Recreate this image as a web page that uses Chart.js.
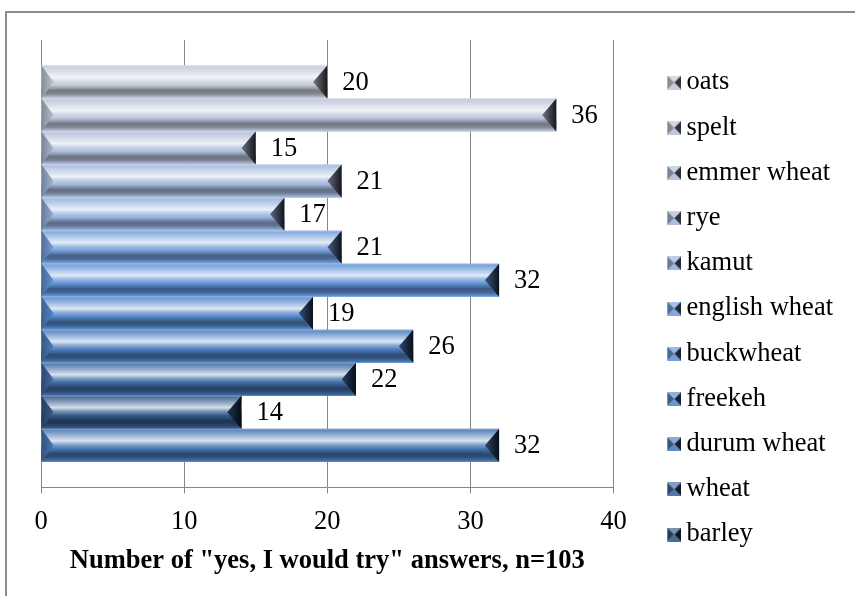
<!DOCTYPE html>
<html>
<head>
<meta charset="utf-8">
<script src="https://cdn.jsdelivr.net/npm/chart.js@4"></script>
<style>
  html, body { margin: 0; padding: 0; background: #fff; }
  #wrap { position: relative; width: 855px; height: 596px; overflow: hidden; }
  #frame { position: absolute; left: 5px; top: 11px; width: 900px; height: 700px;
           border-left: 2px solid #8c8c8c; border-top: 2px solid #8c8c8c; }
  canvas { position: absolute; left: 0; top: 0; }
</style>
</head>
<body>
<div id="wrap">
  <div id="frame"></div>
  <canvas id="chart" width="855" height="596"></canvas>
</div>
<script>
// top bar first; the last series has no name in the legend (it is cut off there)
const grains = ['oats', 'spelt', 'emmer wheat', 'rye', 'kamut', 'english wheat',
                'buckwheat', 'freekeh', 'durum wheat', 'wheat', 'barley', ''];
const answers = [20, 36, 15, 21, 17, 21, 32, 19, 26, 22, 14, 32];
const grainColors = ['#c2c9d6', '#bac4d8', '#b0bed9', '#a4b8db', '#95b0dd', '#759fdc',
                     '#6294d8', '#5488ca', '#4b7dbe', '#3f6aa4', '#34598a', '#4777b2'];
const xTicks = [0, 10, 20, 30, 40];
const axisTitle = 'Number of "yes, I would try" answers, n=103';

const serif = "'Liberation Serif', 'Times New Roman', serif";

function mix(hex, to, t) {
  const n = parseInt(hex.slice(1), 16);
  const r = n >> 16, g = (n >> 8) & 255, b = n & 255;
  const m = to === 'w' ? 255 : 0;
  return 'rgb(' + Math.round(r + (m - r) * t) + ',' + Math.round(g + (m - g) * t) + ',' + Math.round(b + (m - b) * t) + ')';
}

// little pyramid marker for the legend
function marker(c) {
  const cv = document.createElement('canvas');
  cv.width = 17; cv.height = 14;
  const k = cv.getContext('2d');
  const x0 = 3, x1 = 17, y0 = 0, y1 = 14, cx = 10, cy = 7;
  const tri = (pts, col) => {
    k.beginPath(); k.moveTo(pts[0], pts[1]); k.lineTo(pts[2], pts[3]); k.lineTo(pts[4], pts[5]);
    k.closePath(); k.fillStyle = col; k.fill();
  };
  tri([x0, y0, x1, y0, cx, cy], mix(c, 'w', 0.35));
  tri([x0, y1, x1, y1, cx, cy], mix(c, 'w', 0.1));
  tri([x0, y0, x0, y1, cx, cy], mix(c, 'k', 0.3));
  tri([x1, y0, x1, y1, cx, cy], mix(c, 'k', 0.75));
  return cv;
}

const bevelBars = {
  id: 'bevelBars',
  afterDatasetsDraw(chart) {
    const ctx = chart.ctx;
    ctx.save();
    chart.data.datasets.forEach((ds, i) => {
      const c = ds.backgroundColor;
      chart.getDatasetMeta(i).data.forEach(bar => {
        const {x, y, base, height} = bar.getProps(['x', 'y', 'base', 'height'], true);
        const left = Math.min(base, x), right = Math.max(base, x);
        const top = y - height / 2, bottom = y + height / 2;
        const b = Math.min(height * 0.43, (right - left) / 2);

        let g = ctx.createLinearGradient(0, top, 0, bottom);
        g.addColorStop(0, mix(c, 'w', 0.35));
        g.addColorStop(0.05, mix(c, 'w', 0.15));
        g.addColorStop(0.2, mix(c, 'w', 0.45));
        g.addColorStop(0.36, mix(c, 'w', 0.8));
        g.addColorStop(0.47, mix(c, 'w', 0.35));
        g.addColorStop(0.6, c);
        g.addColorStop(0.76, mix(c, 'k', 0.4));
        g.addColorStop(0.86, mix(c, 'k', 0.33));
        g.addColorStop(0.96, mix(c, 'k', 0.05));
        g.addColorStop(1, mix(c, 'w', 0.2));
        ctx.fillStyle = g;
        ctx.fillRect(left, top, right - left, height);

        // left face
        g = ctx.createLinearGradient(left, 0, left + b, 0);
        g.addColorStop(0, mix(c, 'k', 0.3));
        g.addColorStop(1, mix(c, 'w', 0.05));
        ctx.fillStyle = g;
        ctx.beginPath();
        ctx.moveTo(left, top); ctx.lineTo(left + b * 0.85, y); ctx.lineTo(left, bottom);
        ctx.closePath(); ctx.fill();

        // right face
        g = ctx.createLinearGradient(right - b, 0, right, 0);
        g.addColorStop(0, mix(c, 'k', 0.4));
        g.addColorStop(1, mix(c, 'k', 0.88));
        ctx.fillStyle = g;
        ctx.beginPath();
        ctx.moveTo(right, top); ctx.lineTo(right - b, y); ctx.lineTo(right, bottom);
        ctx.closePath(); ctx.fill();
      });
    });
    ctx.restore();
  }
};

const barValues = {
  id: 'barValues',
  afterDatasetsDraw(chart) {
    const ctx = chart.ctx;
    ctx.save();
    ctx.font = '26.5px ' + serif;
    ctx.fillStyle = '#000';
    ctx.textAlign = 'left';
    ctx.textBaseline = 'middle';
    chart.data.datasets.forEach((ds, i) => {
      chart.getDatasetMeta(i).data.forEach((bar, j) => {
        const {x, y} = bar.getProps(['x', 'y'], true);
        ctx.fillText(ds.data[j], x + 15, y + 1);
      });
    });
    ctx.restore();
  }
};

new Chart(document.getElementById('chart'), {
  type: 'bar',
  data: {
    labels: [''],
    datasets: grains.map((name, i) => ({
      label: name,
      data: [answers[i]],
      backgroundColor: grainColors[i],
      borderWidth: 0,
      pointStyle: marker(grainColors[i]),
      categoryPercentage: 0.886,
      barPercentage: 1
    }))
  },
  options: {
    indexAxis: 'y',
    responsive: false,
    animation: false,
    layout: { padding: { left: 41, top: 40, right: 12, bottom: 19 } },
    scales: {
      x: {
        min: xTicks[0],
        max: xTicks[xTicks.length - 1],
        afterBuildTicks: s => { s.ticks = xTicks.map(v => ({ value: v })); },
        ticks: { color: '#000', padding: 13, font: { family: serif, size: 26.5 } },
        grid: { color: '#868686', lineWidth: 1, tickLength: 6 },
        border: { color: '#868686', width: 1 },
        title: {
          display: true,
          text: axisTitle,
          color: '#000',
          font: { family: serif, size: 26.5, weight: 'bold' },
          padding: { top: -6, bottom: 0 }
        }
      },
      y: {
        position: 'right',
        grid: { display: false },
        border: { display: false },
        ticks: { display: false },
        afterFit: s => { s.width = 40; }
      }
    },
    plugins: {
      legend: {
        position: 'right',
        align: 'center',
        labels: {
          usePointStyle: true,
          pointStyleWidth: 1,
          padding: 18.7,
          color: '#000',
          font: { family: serif, size: 26.5 },
          filter: item => item.text !== ''
        }
      },
      tooltip: { enabled: false }
    }
  },
  plugins: [bevelBars, barValues]
});
</script>
</body>
</html>
